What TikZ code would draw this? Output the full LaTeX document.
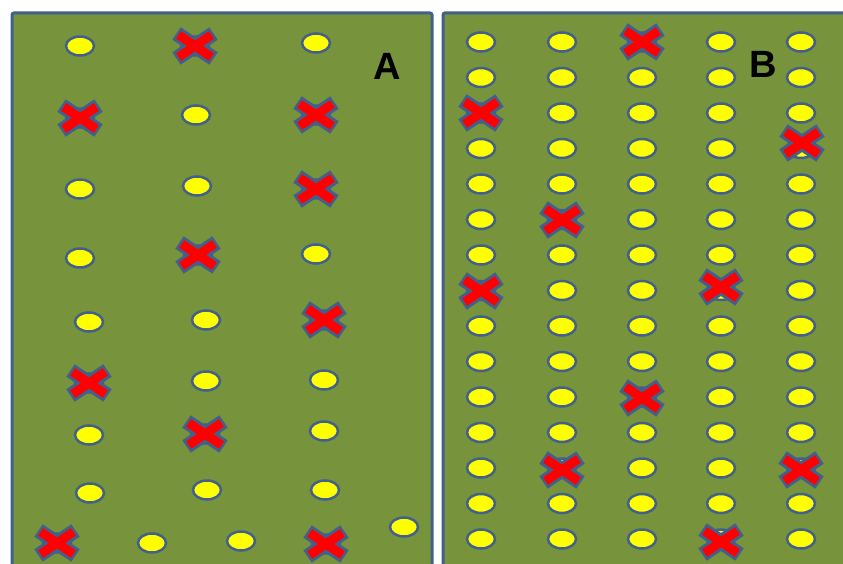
\documentclass[tikz,border=0pt]{standalone}
\usepackage{fontspec}
\setsansfont{Liberation Sans}
\usetikzlibrary{shapes.geometric}
\definecolor{field}{HTML}{77933C}
\definecolor{edge}{HTML}{41608C}
\definecolor{seed}{HTML}{FFFF00}
\definecolor{miss}{HTML}{FF0000}

\begin{document}
\begin{tikzpicture}[x=1pt,y=-1pt,
  plot/.style={draw=edge,line width=3pt,fill=field,rounded corners=2pt},
  seedling/.style={ellipse,draw=edge,fill=seed,line width=2.5pt,minimum width=28pt,minimum height=19pt,inner sep=0pt},
  letter/.style={font=\sffamily\bfseries\fontsize{38}{40}\selectfont,inner sep=0pt},
  redx/.pic={
    \draw[edge,line width=15pt] (-18.5,-12.5)--(18.5,12.5) (-18.5,12.5)--(18.5,-12.5);
    \draw[miss,line width=9pt] (-16.4,-11.1)--(16.4,11.1) (-16.4,11.1)--(16.4,-11.1);
  }]
\useasboundingbox (0,0) rectangle (843,564);
\clip (0,0) rectangle (843,564);
\fill[white] (0,0) rectangle (843,564);
% the two plots
\draw[plot] (12,13) rectangle (432,590);
\draw[plot] (443,13) rectangle (870,590);
% plot A
\foreach \x/\y [count=\i] in {80/46,195/46,316/43, 80/118,196/115,316/115,
    80/189,197/186,316/189, 80/258,198/255,316/254, 89/322,206/320,324/320,
    89/383,206/381,324/380, 89/435,205/434,324/431, 90/493,207/490,325/490,
    57/543,152/543,241/541,326/544,404/527}
  \node[seedling] (a\i) at (\x,\y) {};
\foreach \x/\y [count=\i] in {195/46,80/118,316/115,316/189,198/255,
    324/320,89/383,205/434,57/543,326/544}
  \pic (xa\i) at (\x,\y) {redx};
\node[letter] (la) at (387,66) {A};
% plot B
\foreach \x [count=\c] in {481,562,642,721,801}
  \foreach \r in {1,...,15}
    \node[seedling] (b\c-\r) at (\x,{42+(\r-1)*35.5}) {};
\foreach \x/\y [count=\i] in {642/42,481/113,802/143,562/220,481/291,
    721/287,642/398,562/470,801/470,721/542}
  \pic (xb\i) at (\x,\y) {redx};
\node[letter] (lb) at (763,64) {B};
\end{tikzpicture}
\end{document}
